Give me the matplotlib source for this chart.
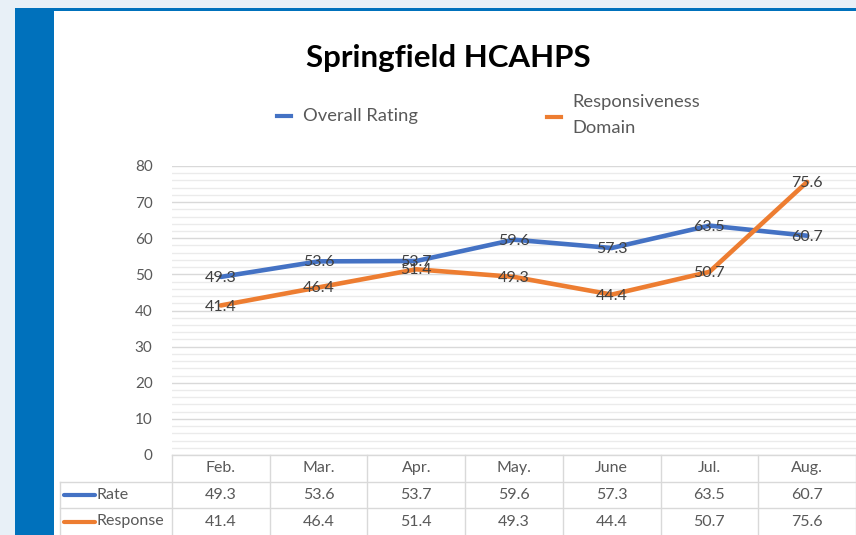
import matplotlib
matplotlib.use("Agg")
import matplotlib.pyplot as plt
from matplotlib.lines import Line2D
from matplotlib.patches import Rectangle
from matplotlib.transforms import blended_transform_factory

plt.rcParams['font.family'] = ['Lato', 'DejaVu Sans']

months = ["Feb.", "Mar.", "Apr.", "May.", "June", "Jul.", "Aug."]
overall_rating = [49.3, 53.6, 53.7, 59.6, 57.3, 63.5, 60.7]
responsiveness = [41.4, 46.4, 51.4, 49.3, 44.4, 50.7, 75.6]
series_names = ["Overall Rating", "Responsiveness\nDomain"]
row_labels = ["Rate", "Response"]
colors = ["#4472C4", "#ED7D31"]

W, H = 856, 535
fig = plt.figure(figsize=(W / 100, H / 100), dpi=100)


def fx(px):
    return px / W


def fy(py):
    return 1 - py / H


# page decoration: light background, blue side bar, blue top rule
fig.patch.set_facecolor("#E8F0F7")
fig.add_artist(Rectangle((fx(54), 0), 1 - fx(54), fy(8), transform=fig.transFigure,
                         facecolor="white", edgecolor="none", zorder=0))
fig.add_artist(Rectangle((fx(15), 0), fx(54) - fx(15), fy(8), transform=fig.transFigure,
                         facecolor="#0071BC", edgecolor="none", zorder=1))
fig.add_artist(Rectangle((fx(54), fy(11)), 1 - fx(54), fy(8) - fy(11), transform=fig.transFigure,
                         facecolor="#0071BC", edgecolor="none", zorder=1))

ax = fig.add_axes([fx(172), fy(455), fx(856) - fx(172), fy(166) - fy(455)])
ax.set_facecolor("none")
x = range(len(months))
ax.set_xlim(-0.5, len(months) - 0.5)
ax.set_ylim(0, 80)
ax.set_yticks(range(0, 81, 10))
ax.set_yticks(range(0, 81, 2), minor=True)
ax.grid(True, which="major", axis="y", color="#D9D9D9", linewidth=1)
ax.grid(True, which="minor", axis="y", color="#EBEBEB", linewidth=1)
ax.set_axisbelow(True)
for s in ax.spines.values():
    s.set_visible(False)
ax.tick_params(axis="y", which="both", length=0, pad=14, labelsize=11, labelcolor="#595959")
ax.tick_params(axis="x", length=0, labelbottom=False)

for vals, c in zip([overall_rating, responsiveness], colors):
    ax.plot(x, vals, color=c, linewidth=3.3, solid_capstyle="round", zorder=3)
    for xi, v in zip(x, vals):
        ax.text(xi, v - 0.3, f"{v}", ha="center", va="center", fontsize=11.5, color="#404040", zorder=4)

fig.text(fx(448), fy(58), "Springfield HCAHPS", ha="center", va="center",
         fontsize=22.5, fontweight="bold", color="black")

# legend
fig.add_artist(Line2D([fx(277), fx(291)], [fy(116), fy(116)], color=colors[0], linewidth=3,
                      transform=fig.transFigure))
fig.text(fx(303), fy(116), series_names[0], ha="left", va="center", fontsize=13.2, color="#595959")
fig.add_artist(Line2D([fx(547), fx(561)], [fy(117), fy(117)], color=colors[1], linewidth=3,
                      transform=fig.transFigure))
fig.text(fx(572), fy(115), series_names[1], ha="left", va="center", fontsize=13.2, color="#595959",
         linespacing=1.75)

# data table under the plot
tr = blended_transform_factory(ax.transData, fig.transFigure)
grid_c = "#D9D9D9"
row_y = [455, 482, 508, 535]
fig.add_artist(Line2D([-0.5, len(months) - 0.5], [fy(455), fy(455)], color=grid_c, lw=1, transform=tr))
for py in row_y[1:3]:
    fig.add_artist(Line2D([fx(60), 1], [fy(py), fy(py)], color=grid_c, lw=1, transform=fig.transFigure))
fig.add_artist(Line2D([fx(60), fx(60)], [fy(482), 0], color=grid_c, lw=1, transform=fig.transFigure))
for i in range(len(months) + 1):
    fig.add_artist(Line2D([i - 0.5, i - 0.5], [fy(455), 0], color=grid_c, lw=1, transform=tr))

for i, m in enumerate(months):
    fig.text(i, fy(468), m, transform=tr, ha="center", va="center", fontsize=11.5, color="#595959")
    fig.text(i, fy(495), f"{overall_rating[i]}", transform=tr, ha="center", va="center",
             fontsize=11.5, color="#595959")
    fig.text(i, fy(521.5), f"{responsiveness[i]}", transform=tr, ha="center", va="center",
             fontsize=11.5, color="#595959")

for lbl, c, py in zip(row_labels, colors, [495, 521.5]):
    fig.add_artist(Line2D([fx(64), fx(95)], [fy(py), fy(py)], color=c, linewidth=3,
                          transform=fig.transFigure, solid_capstyle="round"))
    fig.text(fx(97), fy(py), lbl, ha="left", va="center", fontsize=11.5, color="#595959")

fig.savefig("out.png", dpi=100)
